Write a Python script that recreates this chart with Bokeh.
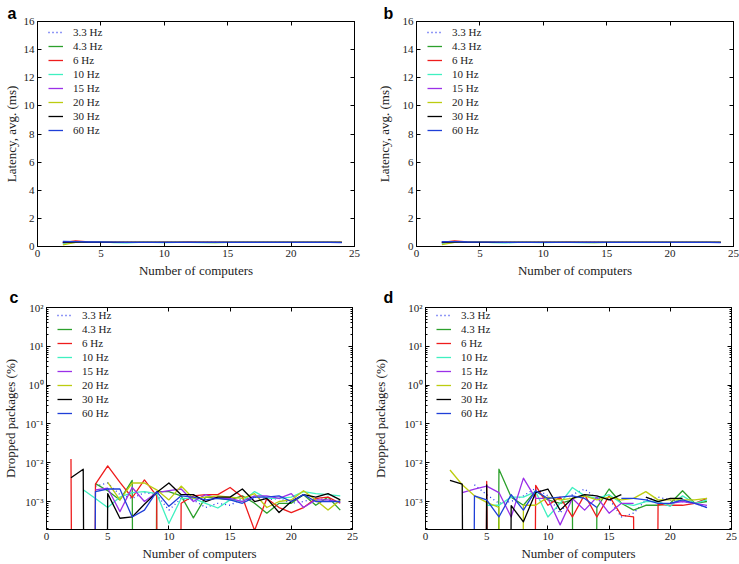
import numpy as np
from bokeh.plotting import figure
from bokeh.models import (LinearAxis, LogAxis, FixedTicker, CustomJSTickFormatter)
from bokeh.layouts import column, row
from bokeh.embed import file_html
from bokeh.resources import INLINE

# ---------------- data ----------------
computers = [2, 3, 4, 5, 6, 7, 8, 9, 10, 11, 12, 13, 14, 15, 16, 17, 18, 19, 20, 21, 22, 23, 24]
series_names = ["3.3 Hz", "4.3 Hz", "6 Hz", "10 Hz", "15 Hz", "20 Hz", "30 Hz", "60 Hz"]
series_colors = ["#2233ee", "#2ca02c", "#ee1c1c", "#3ff0c0", "#9b30e8", "#bccc10", "#000000", "#1f3fd8"]
series_dash = ["1 3", "solid", "solid", "solid", "solid", "solid", "solid", "solid"]

# latency, avg. (ms) -- panel a
a_33 = [0.30, 0.32, 0.31, 0.30, 0.30, 0.29, 0.30, 0.29, 0.30, 0.29, 0.30, 0.29, 0.29, 0.30, 0.29, 0.29, 0.29, 0.29, 0.29, 0.29, 0.29, 0.29, 0.29]
a_43 = [0.25, 0.33, 0.31, 0.31, 0.30, 0.29, 0.30, 0.30, 0.29, 0.30, 0.29, 0.29, 0.29, 0.29, 0.29, 0.30, 0.29, 0.29, 0.29, 0.29, 0.29, 0.29, 0.29]
a_6 = [0.28, 0.40, 0.33, 0.32, 0.30, 0.30, 0.30, 0.29, 0.30, 0.30, 0.31, 0.30, 0.29, 0.30, 0.29, 0.29, 0.29, 0.29, 0.30, 0.29, 0.29, 0.29, 0.29]
a_10 = [0.22, 0.30, 0.32, 0.34, 0.28, 0.26, 0.29, 0.29, 0.28, 0.29, 0.29, 0.28, 0.28, 0.29, 0.29, 0.29, 0.29, 0.29, 0.29, 0.29, 0.29, 0.29, 0.29]
a_15 = [0.27, 0.33, 0.31, 0.31, 0.30, 0.30, 0.29, 0.30, 0.29, 0.30, 0.31, 0.30, 0.29, 0.29, 0.29, 0.29, 0.29, 0.29, 0.29, 0.29, 0.29, 0.29, 0.29]
a_20 = [0.12, 0.30, 0.30, 0.31, 0.30, 0.29, 0.29, 0.29, 0.29, 0.29, 0.29, 0.29, 0.28, 0.29, 0.29, 0.29, 0.29, 0.29, 0.29, 0.29, 0.29, 0.29, 0.29]
a_30 = [0.31, 0.33, 0.30, 0.30, 0.29, 0.29, 0.29, 0.29, 0.29, 0.29, 0.29, 0.29, 0.29, 0.29, 0.29, 0.29, 0.29, 0.29, 0.29, 0.29, 0.29, 0.29, 0.29]
a_60 = [0.36, 0.35, 0.32, 0.32, 0.31, 0.30, 0.30, 0.30, 0.30, 0.29, 0.30, 0.30, 0.29, 0.29, 0.29, 0.29, 0.29, 0.29, 0.29, 0.29, 0.29, 0.29, 0.28]

# latency, avg. (ms) -- panel b
b_33 = [0.31, 0.32, 0.31, 0.30, 0.30, 0.30, 0.29, 0.29, 0.30, 0.29, 0.29, 0.29, 0.29, 0.30, 0.29, 0.29, 0.29, 0.29, 0.29, 0.29, 0.29, 0.29, 0.29]
b_43 = [0.26, 0.33, 0.31, 0.30, 0.30, 0.29, 0.30, 0.29, 0.29, 0.30, 0.29, 0.30, 0.29, 0.29, 0.29, 0.29, 0.29, 0.29, 0.29, 0.29, 0.29, 0.29, 0.29]
b_6 = [0.29, 0.39, 0.33, 0.32, 0.30, 0.30, 0.30, 0.30, 0.30, 0.30, 0.31, 0.30, 0.29, 0.30, 0.29, 0.29, 0.29, 0.29, 0.30, 0.29, 0.29, 0.29, 0.29]
b_10 = [0.23, 0.30, 0.32, 0.33, 0.28, 0.26, 0.29, 0.29, 0.28, 0.29, 0.29, 0.28, 0.28, 0.29, 0.29, 0.29, 0.29, 0.29, 0.29, 0.29, 0.29, 0.29, 0.29]
b_15 = [0.27, 0.33, 0.31, 0.31, 0.30, 0.29, 0.29, 0.30, 0.29, 0.30, 0.30, 0.30, 0.29, 0.29, 0.29, 0.29, 0.29, 0.29, 0.29, 0.29, 0.29, 0.29, 0.29]
b_20 = [0.13, 0.30, 0.30, 0.31, 0.30, 0.29, 0.29, 0.29, 0.29, 0.29, 0.29, 0.29, 0.28, 0.29, 0.29, 0.29, 0.29, 0.29, 0.29, 0.29, 0.29, 0.29, 0.29]
b_30 = [0.31, 0.33, 0.30, 0.30, 0.29, 0.29, 0.29, 0.29, 0.29, 0.29, 0.29, 0.29, 0.29, 0.29, 0.29, 0.29, 0.29, 0.29, 0.29, 0.29, 0.29, 0.29, 0.29]
b_60 = [0.35, 0.35, 0.32, 0.31, 0.31, 0.30, 0.30, 0.30, 0.30, 0.29, 0.30, 0.30, 0.29, 0.29, 0.29, 0.29, 0.29, 0.29, 0.29, 0.29, 0.29, 0.29, 0.28]

# dropped packages (%) -- panel c  (None = no data, 0 = nothing dropped)
c_33 = [None, None, 0.0025, 0.0030, 0.0015, 0.0012, 0.0017, 0.0015, 0.0006, 0.0012, 0.0011, 0.0007, 0.0009, 0.0008, 0.0012, 0.0013, 0.0011, 0.0012, 0.0009, 0.0010, 0.0012, 0.0011, 0.0009]
c_43 = [None, None, 0.0029, 0.0019, 0.0011, 0.0035, 0, 0.0018, 0.0018, 0.0014, 0.00038, 0.0013, 0.0012, 0.0011, 0.0014, 0.0009, 0.0005, 0.0009, 0.0009, 0.0015, 0.0008, 0.0013, 0.0006]
c_6 = [0.0125, 0, 0.0028, 0.0083, 0.0031, 0.00125, 0.0036, 0.0014, 0, 0.0009, 0.0014, 0.0015, 0.0015, 0.0023, 0.0013, 0.00018, 0.0012, 0.0007, 0.00052, 0.0007, 0.0012, 0.0013, 0.0009]
c_10 = [None, 0.0020, 0.0012, 0.0007, 0.0013, 0.0017, 0.0018, 0.0016, 0.00027, 0.0012, 0.0012, 0.0009, 0.00068, 0.0011, 0.0010, 0.0018, 0.0012, 0.0012, 0.0013, 0.0018, 0.0016, 0.0015, 0.0014]
c_15 = [None, None, 0.0020, 0.0022, 0.00055, 0.0023, 0.0010, 0.0017, 0.0019, 0.0021, 0.0010, 0.0015, 0.0012, 0.0012, 0.0010, 0.0014, 0.0014, 0.0012, 0.0016, 0.0007, 0.0011, 0.0011, 0.00095]
c_20 = [None, None, None, 0.0031, 0.0011, 0.0030, 0.0030, 0.0020, 0.0011, 0.0025, 0.0012, 0.0013, 0.0014, 0.0013, 0.0012, 0.0016, 0.0007, 0.0010, 0.0011, 0.0019, 0.0011, 0.0006, 0.0011]
c_30 = [0.0041, 0.0068, 0, 0.0016, 0.00037, 0.0004, 0.00085, 0.0017, 0.0030, 0.0015, 0.0015, 0.0010, 0.0013, 0.0013, 0.0021, 0.0010, 0.0012, 0.00052, 0.0010, 0.0015, 0.0013, 0.0016, 0.0011]
c_60 = [None, 0, 0.0018, 0.0021, 0.0021, 0.0004, 0.0006, 0.0018, 0.00075, 0.0014, 0.0013, 0.0011, 0.0012, 0.0011, 0.0009, 0.0013, 0.0013, 0.0014, 0.0010, 0.0015, 0.0010, 0.0010, 0.0010]

# dropped packages (%) -- panel d
d_33 = [None, None, 0.0027, 0.0015, 0.0009, 0.0010, 0.0014, 0.0022, 0.0014, 0.0005, 0.0015, 0.0021, 0.0012, 0.0012, 0.0004, 0.0005, 0.0011, 0.0013, 0.0011, 0.0010, 0.0009, 0.0007, None]
d_43 = [None, None, None, 0, 0.0068, 0.0013, 0.0008, 0.0019, 0.0011, 0.0009, 0.0011, 0, 0.0007, 0.0021, 0.0009, 0.0006, 0.0008, 0.0008, 0.0009, 0.0019, 0.0009, 0.0010, None]
d_6 = [None, None, 0, 0.0033, 0, 0, 0, 0.0026, 0.0008, 0.0013, 0.0004, 0.0015, 0.0004, 0.0014, 0.00044, 0.0004, 0, 0.00085, 0.0008, 0.0008, 0.0009, 0.0012, None]
d_10 = [None, None, None, 0.0008, 0.0008, 0.0013, 0.0013, 0.0018, 0.0004, 0.0009, 0.0023, 0.0014, 0.0012, 0.0015, 0.0009, 0.0008, 0.0010, 0.0010, 0.00075, 0.0014, 0.0009, 0.0011, None]
d_15 = [None, 0.0017, 0.0021, 0.0025, 0.0017, 0.0004, 0.0040, 0.0012, 0.0012, 0.00025, 0.0012, 0.0006, 0.0013, 0.0005, 0.0009, 0.0009, None, None, 0.0009, 0.0010, 0.0009, 0.0008, None]
d_20 = [0.0065, 0.0027, 0.0014, 0.00095, 0.0007, 0, 0.0008, 0.0008, 0.0013, 0.0011, 0.0012, 0.0014, 0.0011, 0.0013, 0.0011, 0.0012, 0.0018, 0.0011, 0.0011, 0.0011, 0.0011, 0.0012, None]
d_30 = [0.0035, 0.0028, 0, 0.0027, 0, 0.00078, 0.0003, 0.0017, 0.0021, 0.0006, 0.0012, 0.0015, 0.0014, 0.0011, 0.0015, None, 0.0013, 0.0010, 0.0012, 0.0012, None, None, None]
d_60 = [None, 0, 0.0014, 0.0011, 0.0004, 0.0015, 0.0006, 0.0019, 0.0012, 0.0013, 0.0014, 0.0012, 0.0007, None, 0.0012, 0.0012, 0.0011, 0.0009, 0.0009, 0.0011, 0.0009, 0.0007, None]

x_ticks = [0, 5, 10, 15, 20, 25]
lat_ticks = [0, 2, 4, 6, 8, 10, 12, 14, 16]
drop_ticks = [1e-3, 1e-2, 1e-1, 1, 10, 100]

SERIF = "Liberation Serif"
LOG_FLOOR = 1e-60   # zero values on a log axis fall to the bottom


def prep(vals, log):
    out = []
    for v in vals:
        if v is None:
            out.append(np.nan)
        elif log and v == 0:
            out.append(LOG_FLOOR)
        else:
            out.append(float(v))
    return np.array(out)


def style_axis(ax, labels=True):
    ax.axis_line_color = "black"
    ax.axis_line_width = 1
    ax.major_tick_in = 4
    ax.major_tick_out = 0
    ax.minor_tick_in = 2
    ax.minor_tick_out = 0
    ax.major_tick_line_color = "black"
    ax.minor_tick_line_color = "black"
    ax.major_label_text_font = SERIF
    ax.major_label_text_font_size = "11px" if labels else "0px"
    ax.major_label_text_color = "#222222"
    ax.axis_label_text_font = SERIF
    ax.axis_label_text_font_size = "13px"
    ax.axis_label_text_font_style = "normal"
    ax.axis_label_text_color = "#222222"
    if not labels:
        ax.major_label_standoff = 0


def panel(letter, series, log, w, h, bl, br, bt, bb, ylabel, ystand, letter_dx, letter_gap):
    common = dict(width=w, height=h, x_range=(0, 25), output_backend="svg",
                  toolbar_location=None, title=letter)
    if log:
        p = figure(y_range=(1.9e-4, 100), y_axis_type="log", **common)
    else:
        p = figure(y_range=(0, 16), **common)
    p.min_border_left = bl
    p.min_border_right = br
    p.min_border_top = bt
    p.min_border_bottom = bb
    p.outline_line_color = "black"
    p.outline_line_width = 1
    p.xgrid.visible = False
    p.ygrid.visible = False
    p.background_fill_color = "white"
    p.border_fill_color = "white"

    p.title.align = "left"
    p.title.offset = letter_dx
    p.title.standoff = letter_gap
    p.title.text_font = "Liberation Sans"
    p.title.text_font_style = "bold"
    p.title.text_font_size = "16px"
    p.title.text_color = "black"

    xt = FixedTicker(ticks=x_ticks)
    if log:
        minors = [m * 10.0 ** e for e in range(-4, 2) for m in range(2, 10)]
        yt = FixedTicker(ticks=drop_ticks, minor_ticks=minors)
        sup = """
        const s = {'-':'\\u207b','0':'\\u2070','1':'\\u00b9','2':'\\u00b2','3':'\\u00b3','4':'\\u2074','5':'\\u2075','6':'\\u2076','7':'\\u2077','8':'\\u2078','9':'\\u2079'};
        const e = Math.round(Math.log10(tick));
        return '10' + String(e).split('').map(c => s[c]).join('');
        """
        p.yaxis.formatter = CustomJSTickFormatter(code=sup)
    else:
        yt = FixedTicker(ticks=lat_ticks)
    p.xaxis.ticker = xt
    p.yaxis.ticker = yt
    p.xaxis.axis_label = "Number of computers"
    p.yaxis.axis_label = ylabel
    for ax in p.xaxis + p.yaxis:
        style_axis(ax)
        ax.major_label_standoff = 3
    p.xaxis.axis_label_standoff = 3
    p.yaxis.axis_label_standoff = ystand

    blank = "return ''"
    top = LinearAxis(ticker=xt, formatter=CustomJSTickFormatter(code=blank))
    style_axis(top, labels=False)
    p.add_layout(top, "above")
    if log:
        right = LogAxis(ticker=yt, formatter=CustomJSTickFormatter(code=blank))
    else:
        right = LinearAxis(ticker=yt, formatter=CustomJSTickFormatter(code=blank))
    style_axis(right, labels=False)
    p.add_layout(right, "right")

    for name, vals, col, dash in zip(series_names, series, series_colors, series_dash):
        p.line(computers, prep(vals, log), line_color=col, line_width=1.3,
               line_dash=dash, line_join="round", legend_label=name)

    fh = h - bt - bb
    lg = p.legend[0]
    lg.glyph_width = 15
    lg.glyph_height = 12
    lg.label_height = 12
    lg.label_standoff = 10
    lg.spacing = 2
    lg.padding = 0
    lg.margin = 0
    lg.border_line_color = None
    lg.background_fill_alpha = 0
    lg.label_text_font = SERIF
    lg.label_text_font_size = "11px"
    lg.label_text_color = "#222222"
    lg.location = (11, fh - 6 - 110)
    return p


pa = panel("a", [a_33, a_43, a_6, a_10, a_15, a_20, a_30, a_60], False,
           370, 280, 37, 16, 21, 33, "Latency, avg. (ms)", 2, -30, 0)
pb = panel("b", [b_33, b_43, b_6, b_10, b_15, b_20, b_30, b_60], False,
           369, 280, 46, 6, 21, 33, "Latency, avg. (ms)", 8, -33, 0)
pc = panel("c", [c_33, c_43, c_6, c_10, c_15, c_20, c_30, c_60], True,
           370, 283, 45, 18, 27, 30, "Dropped packages (%)", 4, -37, 3)
pd = panel("d", [d_33, d_43, d_6, d_10, d_15, d_20, d_30, d_60], True,
           369, 283, 54, 8, 27, 30, "Dropped packages (%)", 13, -42, 3)

layout = column(row(pa, pb), row(pc, pd))
open("out.html", "w", encoding="utf-8").write(file_html(layout, INLINE))
